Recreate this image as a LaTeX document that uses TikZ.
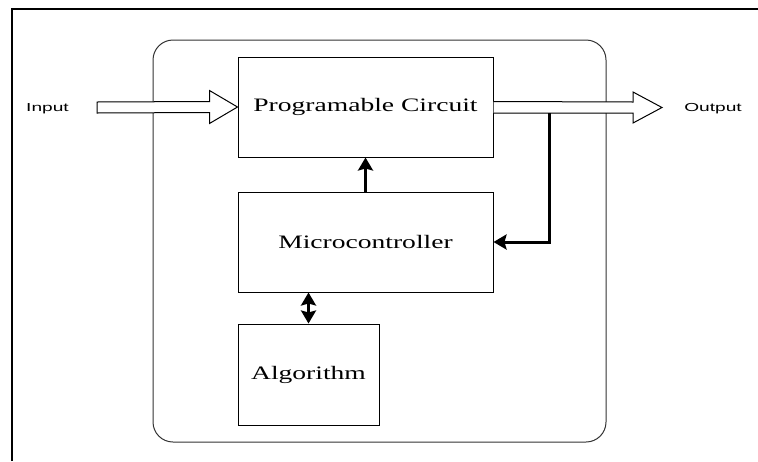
\documentclass[tikz,border=0pt]{standalone}
\usepackage{fontspec}
\usepackage{tikz}
\usetikzlibrary{calc, arrows.meta}
\newfontfamily\blockfont[FakeStretch=1.45]{Liberation Serif}
\newfontfamily\iofont[FakeStretch=1.65]{Liberation Sans}

\tikzset{
  block/.style = {draw, line width=0.5pt, minimum width=127.5pt, minimum height=50pt,
                  font=\blockfont\fontsize{9.5}{11}\selectfont},
  iolabel/.style = {font=\iofont\fontsize{5.8}{7}\selectfont, anchor=base},
  bigarrow/.style = {draw, fill=white, line width=0.5pt, line join=miter},
  ctrl/.style = {line width=1.5pt, >={Stealth[length=6.5pt, width=7.5pt, inset=1pt]}}
}

\begin{document}
\begin{tikzpicture}[x=0.5pt, y=-0.5pt]
\useasboundingbox (0,0) rectangle (758,461);
\draw[line width=1.3pt] (12,461) -- (12,9) -- (758,9);
\draw[line width=0.5pt, black!80, rounded corners=10pt] (153,40) rectangle (606,442);
\node[block] (prog) at (365.5,107) {Programable Circuit};
\node[block] (micro) at (365.5,242) {Microcontroller};
\node[block, minimum width=70.5pt, minimum height=50.5pt] (algo) at (308.5,374.5) {Algorithm};
\node[iolabel] (in) at (47.5,111) {Input};
\node[iolabel] (out) at (713,111) {Output};
% hollow arrows
\draw[bigarrow] (97,102) -- ($(prog.west)+(-28,-5.5)$) -- ($(prog.west)+(-28,-16.5)$) -- (prog.west)
  -- ($(prog.west)+(-28,16.5)$) -- ($(prog.west)+(-28,5.5)$) -- (97,113) -- cycle;
\fill[white] ($(prog.east)+(0,-5.5)$) rectangle (633,113);
\draw[bigarrow] ($(prog.east)+(0,-5.5)$) -- (633,102) -- (633,92) -- (662,107.5)
  -- (633,123) -- (633,113) -- ($(prog.east)+(0,6)$);
\coordinate (fb) at (549,113);
% control arrows
\draw[ctrl, ->] (micro.north) -- (prog.south);
\draw[ctrl, <->] (algo.north) -- (algo.north |- micro.south);
\draw[ctrl, ->] (fb) |- (micro.east);
\end{tikzpicture}
\end{document}
